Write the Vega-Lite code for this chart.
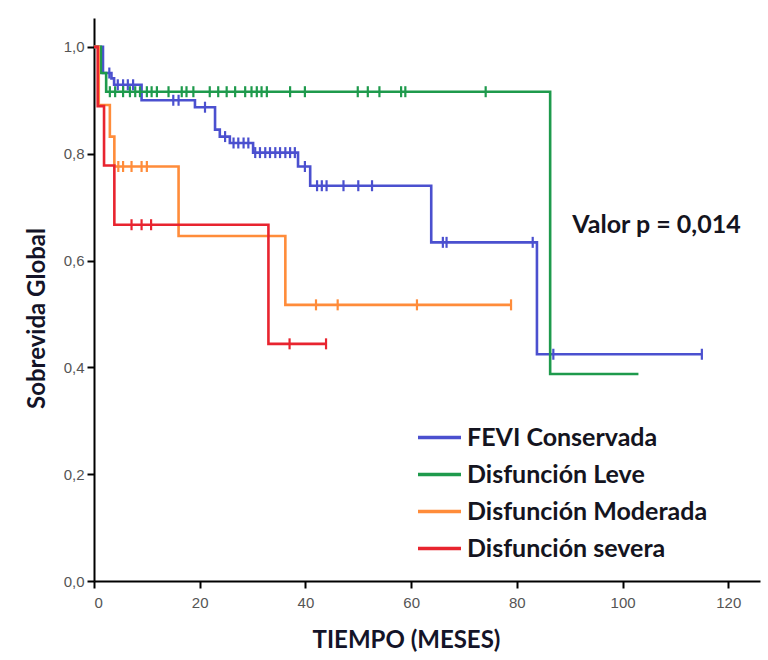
{
  "$schema": "https://vega.github.io/schema/vega-lite/v6.json",
  "width": 666,
  "height": 563,
  "autosize": {"type": "none"},
  "padding": {"left": 94, "top": 18, "right": 8, "bottom": 79},
  "background": "white",
  "config": {
    "view": {"stroke": null},
    "axis": {
      "grid": false,
      "domainColor": "#000",
      "domainWidth": 2,
      "tickColor": "#000",
      "tickWidth": 2,
      "tickSize": 7,
      "labelFont": "Liberation Sans Narrow, Liberation Sans",
      "labelFontSize": 15,
      "labelColor": "#555",
      "titleFont": "Lato",
      "titleFontWeight": "bold",
      "titleFontSize": 24,
      "titleColor": "#141428"
    }
  },
  "datasets": {
    "curves": [
      {"g": "FEVI Conservada", "t": 0, "s": 1.0},
      {"g": "FEVI Conservada", "t": 1.7, "s": 0.951},
      {"g": "FEVI Conservada", "t": 3.3, "s": 0.941},
      {"g": "FEVI Conservada", "t": 3.8, "s": 0.929},
      {"g": "FEVI Conservada", "t": 9.0, "s": 0.900},
      {"g": "FEVI Conservada", "t": 19.1, "s": 0.887},
      {"g": "FEVI Conservada", "t": 22.9, "s": 0.845},
      {"g": "FEVI Conservada", "t": 23.8, "s": 0.832},
      {"g": "FEVI Conservada", "t": 25.7, "s": 0.820},
      {"g": "FEVI Conservada", "t": 30.1, "s": 0.802},
      {"g": "FEVI Conservada", "t": 38.6, "s": 0.776},
      {"g": "FEVI Conservada", "t": 40.9, "s": 0.740},
      {"g": "FEVI Conservada", "t": 63.8, "s": 0.634},
      {"g": "FEVI Conservada", "t": 83.8, "s": 0.4245},
      {"g": "FEVI Conservada", "t": 115, "s": 0.4245},
      {"g": "Disfunción Leve", "t": 0, "s": 1.0},
      {"g": "Disfunción Leve", "t": 1.3, "s": 0.951},
      {"g": "Disfunción Leve", "t": 2.3, "s": 0.916},
      {"g": "Disfunción Leve", "t": 86.3, "s": 0.3876},
      {"g": "Disfunción Leve", "t": 103, "s": 0.3876},
      {"g": "Disfunción Moderada", "t": 0, "s": 1.0},
      {"g": "Disfunción Moderada", "t": 0.9, "s": 0.891},
      {"g": "Disfunción Moderada", "t": 3.0, "s": 0.832},
      {"g": "Disfunción Moderada", "t": 3.85, "s": 0.776},
      {"g": "Disfunción Moderada", "t": 16.0, "s": 0.646},
      {"g": "Disfunción Moderada", "t": 36.2, "s": 0.517},
      {"g": "Disfunción Moderada", "t": 78.9, "s": 0.517},
      {"g": "Disfunción severa", "t": 0, "s": 1.0},
      {"g": "Disfunción severa", "t": 0.7, "s": 0.889},
      {"g": "Disfunción severa", "t": 1.9, "s": 0.778},
      {"g": "Disfunción severa", "t": 3.85, "s": 0.667},
      {"g": "Disfunción severa", "t": 33.0, "s": 0.444},
      {"g": "Disfunción severa", "t": 43.9, "s": 0.444}
    ],
    "censored": [
      {"g": "FEVI Conservada", "t": 2.9, "s": 0.951},
      {"g": "FEVI Conservada", "t": 4.5, "s": 0.929},
      {"g": "FEVI Conservada", "t": 5.5, "s": 0.929},
      {"g": "FEVI Conservada", "t": 6.4, "s": 0.929},
      {"g": "FEVI Conservada", "t": 7.4, "s": 0.929},
      {"g": "FEVI Conservada", "t": 15.0, "s": 0.900},
      {"g": "FEVI Conservada", "t": 16.0, "s": 0.900},
      {"g": "FEVI Conservada", "t": 21.0, "s": 0.887},
      {"g": "FEVI Conservada", "t": 24.8, "s": 0.832},
      {"g": "FEVI Conservada", "t": 26.4, "s": 0.820},
      {"g": "FEVI Conservada", "t": 27.3, "s": 0.820},
      {"g": "FEVI Conservada", "t": 28.3, "s": 0.820},
      {"g": "FEVI Conservada", "t": 29.2, "s": 0.820},
      {"g": "FEVI Conservada", "t": 30.5, "s": 0.802},
      {"g": "FEVI Conservada", "t": 31.4, "s": 0.802},
      {"g": "FEVI Conservada", "t": 32.4, "s": 0.802},
      {"g": "FEVI Conservada", "t": 33.3, "s": 0.802},
      {"g": "FEVI Conservada", "t": 34.3, "s": 0.802},
      {"g": "FEVI Conservada", "t": 35.2, "s": 0.802},
      {"g": "FEVI Conservada", "t": 36.2, "s": 0.802},
      {"g": "FEVI Conservada", "t": 37.1, "s": 0.802},
      {"g": "FEVI Conservada", "t": 38.0, "s": 0.802},
      {"g": "FEVI Conservada", "t": 39.9, "s": 0.776},
      {"g": "FEVI Conservada", "t": 42.2, "s": 0.740},
      {"g": "FEVI Conservada", "t": 43.1, "s": 0.740},
      {"g": "FEVI Conservada", "t": 44.0, "s": 0.740},
      {"g": "FEVI Conservada", "t": 47.2, "s": 0.740},
      {"g": "FEVI Conservada", "t": 50.0, "s": 0.740},
      {"g": "FEVI Conservada", "t": 52.6, "s": 0.740},
      {"g": "FEVI Conservada", "t": 66.0, "s": 0.634},
      {"g": "FEVI Conservada", "t": 66.7, "s": 0.634},
      {"g": "FEVI Conservada", "t": 83.0, "s": 0.634},
      {"g": "FEVI Conservada", "t": 86.9, "s": 0.4245},
      {"g": "FEVI Conservada", "t": 115, "s": 0.4245},
      {"g": "Disfunción Leve", "t": 3.0, "s": 0.916},
      {"g": "Disfunción Leve", "t": 4.0, "s": 0.916},
      {"g": "Disfunción Leve", "t": 5.5, "s": 0.916},
      {"g": "Disfunción Leve", "t": 6.8, "s": 0.916},
      {"g": "Disfunción Leve", "t": 7.8, "s": 0.916},
      {"g": "Disfunción Leve", "t": 8.7, "s": 0.916},
      {"g": "Disfunción Leve", "t": 10.0, "s": 0.916},
      {"g": "Disfunción Leve", "t": 10.9, "s": 0.916},
      {"g": "Disfunción Leve", "t": 11.9, "s": 0.916},
      {"g": "Disfunción Leve", "t": 14.1, "s": 0.916},
      {"g": "Disfunción Leve", "t": 16.6, "s": 0.916},
      {"g": "Disfunción Leve", "t": 17.5, "s": 0.916},
      {"g": "Disfunción Leve", "t": 18.8, "s": 0.916},
      {"g": "Disfunción Leve", "t": 21.9, "s": 0.916},
      {"g": "Disfunción Leve", "t": 23.5, "s": 0.916},
      {"g": "Disfunción Leve", "t": 25.1, "s": 0.916},
      {"g": "Disfunción Leve", "t": 26.7, "s": 0.916},
      {"g": "Disfunción Leve", "t": 28.6, "s": 0.916},
      {"g": "Disfunción Leve", "t": 29.8, "s": 0.916},
      {"g": "Disfunción Leve", "t": 30.8, "s": 0.916},
      {"g": "Disfunción Leve", "t": 31.7, "s": 0.916},
      {"g": "Disfunción Leve", "t": 32.7, "s": 0.916},
      {"g": "Disfunción Leve", "t": 37.1, "s": 0.916},
      {"g": "Disfunción Leve", "t": 39.9, "s": 0.916},
      {"g": "Disfunción Leve", "t": 49.9, "s": 0.916},
      {"g": "Disfunción Leve", "t": 51.8, "s": 0.916},
      {"g": "Disfunción Leve", "t": 54.0, "s": 0.916},
      {"g": "Disfunción Leve", "t": 58.1, "s": 0.916},
      {"g": "Disfunción Leve", "t": 58.9, "s": 0.916},
      {"g": "Disfunción Leve", "t": 74.1, "s": 0.916},
      {"g": "Disfunción Moderada", "t": 4.6, "s": 0.776},
      {"g": "Disfunción Moderada", "t": 5.5, "s": 0.776},
      {"g": "Disfunción Moderada", "t": 7.1, "s": 0.776},
      {"g": "Disfunción Moderada", "t": 9.0, "s": 0.776},
      {"g": "Disfunción Moderada", "t": 10.0, "s": 0.776},
      {"g": "Disfunción Moderada", "t": 42.0, "s": 0.517},
      {"g": "Disfunción Moderada", "t": 46.1, "s": 0.517},
      {"g": "Disfunción Moderada", "t": 61.1, "s": 0.517},
      {"g": "Disfunción Moderada", "t": 78.9, "s": 0.517},
      {"g": "Disfunción severa", "t": 7.1, "s": 0.667},
      {"g": "Disfunción severa", "t": 9.0, "s": 0.667},
      {"g": "Disfunción severa", "t": 10.8, "s": 0.667},
      {"g": "Disfunción severa", "t": 37.0, "s": 0.444},
      {"g": "Disfunción severa", "t": 43.9, "s": 0.444}
    ],
    "note": [
      {"t": 90.5, "s": 0.667, "label": "Valor p = 0,014"}
    ]
  },
  "layer": [
    {
      "data": {"name": "curves"},
      "mark": {"type": "line", "interpolate": "step-after", "strokeWidth": 2.6, "clip": false},
      "encoding": {
        "x": {
          "field": "t", "type": "quantitative",
          "scale": {"domain": [0, 126], "nice": false, "zero": false},
          "axis": {"values": [0, 20, 40, 60, 80, 100, 120], "title": "TIEMPO (MESES)", "titlePadding": 18, "labelPadding": 7, "titleX": 312, "titleAlign": "center"}
        },
        "y": {
          "field": "s", "type": "quantitative",
          "scale": {"domain": [0, 1.054], "nice": false},
          "axis": {
            "values": [0, 0.2, 0.4, 0.6, 0.8, 1.0],
            "labelExpr": "replace(format(datum.value, '.1f'), '.', ',')",
            "title": "Sobrevida Global",
            "titlePadding": 14,
            "labelPadding": 3,
            "titleY": 300,
            "titleAlign": "center"
          }
        },
        "color": {
          "field": "g", "type": "nominal",
          "scale": {
            "domain": ["FEVI Conservada", "Disfunción Leve", "Disfunción Moderada", "Disfunción severa"],
            "range": ["#4b50cf", "#1e9a4c", "#ff8c3a", "#e8242f"]
          },
          "legend": {
            "title": null,
            "orient": "none",
            "legendX": 322,
            "legendY": 396,
            "symbolType": "stroke",
            "symbolSize": 1849,
            "symbolStrokeWidth": 3.5,
            "symbolOpacity": 1,
            "labelFont": "Lato",
            "labelFontWeight": "bold",
            "labelFontSize": 25,
            "labelColor": "#141420",
            "labelOffset": 4,
            "rowPadding": -10,
            "labelLimit": 400
          }
        }
      }
    },
    {
      "data": {"name": "censored"},
      "mark": {"type": "tick", "orient": "vertical", "size": 11, "thickness": 2.2, "opacity": 1, "clip": false},
      "encoding": {
        "x": {"field": "t", "type": "quantitative"},
        "y": {"field": "s", "type": "quantitative"},
        "color": {"field": "g", "type": "nominal"}
      }
    },
    {
      "data": {"name": "note"},
      "mark": {"type": "text", "align": "left", "baseline": "middle", "font": "Lato", "fontWeight": "bold", "fontSize": 25, "color": "#141420"},
      "encoding": {
        "x": {"field": "t", "type": "quantitative"},
        "y": {"field": "s", "type": "quantitative"},
        "text": {"field": "label"}
      }
    }
  ]
}
